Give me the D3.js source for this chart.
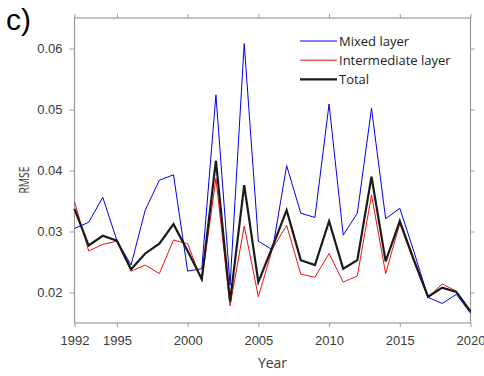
<!DOCTYPE html>
<html>
<head>
<meta charset="utf-8">
<script src="https://cdn.jsdelivr.net/npm/d3@7"></script>
<style>
  html, body { margin: 0; padding: 0; background: #fff; }
  svg { display: block; font-family: "Open Sans", "DejaVu Sans", sans-serif; }
</style>
</head>
<body>
<svg id="chart" width="484" height="376"></svg>
<script>
// RMSE per year for each layer
const years = d3.range(1992, 2021);
const mixedLayer = [0.0305, 0.0315, 0.0356, 0.0285, 0.0245, 0.0335, 0.0384, 0.0393, 0.0235, 0.0239,
  0.0524, 0.0212, 0.0608, 0.0284, 0.0270, 0.0408, 0.0330, 0.0323, 0.0509, 0.0294,
  0.0330, 0.0502, 0.0321, 0.0338, 0.0267, 0.0192, 0.0182, 0.0197, 0.0166];
const intermediateLayer = [0.0349, 0.0268, 0.0279, 0.0284, 0.0235, 0.0245, 0.0231, 0.0286, 0.0280, 0.0219,
  0.0387, 0.0178, 0.0309, 0.0193, 0.0272, 0.0310, 0.0230, 0.0225, 0.0264, 0.0217,
  0.0227, 0.0360, 0.0231, 0.0313, 0.0250, 0.0192, 0.0214, 0.0202, 0.0168];
const total = [0.0337, 0.0277, 0.0293, 0.0285, 0.0238, 0.0264, 0.0280, 0.0312, 0.0268, 0.0222,
  0.0416, 0.0185, 0.0376, 0.0217, 0.0275, 0.0335, 0.0253, 0.0245, 0.0317, 0.0239,
  0.0253, 0.0390, 0.0251, 0.0317, 0.0253, 0.0193, 0.0208, 0.0201, 0.0169];

const seriesNames = ["Mixed layer", "Intermediate layer", "Total"];
const xTicks = [1992, 1995, 2000, 2005, 2010, 2015, 2020];
const yTicks = [0.02, 0.03, 0.04, 0.05, 0.06];

const series = [
  { name: seriesNames[0], values: mixedLayer, color: "#0000ee", width: 1 },
  { name: seriesNames[1], values: intermediateLayer, color: "#ee1111", width: 1 },
  { name: seriesNames[2], values: total, color: "#1a1a1a", width: 2.2 }
];

const W = 484, H = 376;
const margin = { top: 18, right: 13.5, bottom: 53, left: 74.5 };
const svg = d3.select("#chart");

const x = d3.scaleLinear().domain([1992, 2020]).range([margin.left, W - margin.right]);
const y = d3.scaleLinear().domain([0.015, 0.065]).range([H - margin.bottom, margin.top]);

const axisColor = "#9a9a9a";
const textColor = "#3a3a3a";

function styleAxis(g) {
  g.select(".domain").remove();
  g.selectAll(".tick line").attr("stroke", axisColor);
  g.selectAll(".tick text").attr("fill", textColor).style("font-size", "13px");
}

// bottom and left axes with labels
svg.append("g")
  .attr("transform", `translate(0,${H - margin.bottom})`)
  .call(d3.axisBottom(x).tickValues(xTicks).tickFormat(d3.format("d")).tickSize(4).tickPadding(9))
  .call(styleAxis);

svg.append("g")
  .attr("transform", `translate(${margin.left},0)`)
  .call(d3.axisLeft(y).tickValues(yTicks).tickFormat(d3.format(".2f")).tickSize(5).tickPadding(7))
  .call(styleAxis);

// top and right axes: ticks only
svg.append("g")
  .attr("transform", `translate(0,${margin.top})`)
  .call(d3.axisTop(x).tickValues(xTicks).tickFormat("").tickSize(4))
  .call(styleAxis);

svg.append("g")
  .attr("transform", `translate(${W - margin.right},0)`)
  .call(d3.axisRight(y).tickValues(yTicks).tickFormat("").tickSize(4))
  .call(styleAxis);

// frame
svg.append("rect")
  .attr("x", margin.left).attr("y", margin.top)
  .attr("width", x.range()[1] - x.range()[0])
  .attr("height", y.range()[0] - y.range()[1])
  .attr("fill", "none").attr("stroke", axisColor).attr("stroke-width", 1.2);

// series lines
const line = d3.line().x((d, i) => x(years[i])).y(d => y(d));
const plot = svg.append("g");
series.forEach(s => {
  plot.append("path")
    .datum(s.values)
    .attr("d", line)
    .attr("fill", "none")
    .attr("stroke", s.color)
    .attr("stroke-width", s.width)
    .attr("stroke-linejoin", "miter");
});

// legend
const legend = svg.append("g").attr("transform", "translate(300,41)");
series.forEach((s, i) => {
  const row = legend.append("g").attr("transform", `translate(0,${i * 19.2})`);
  row.append("line").attr("x1", 0).attr("x2", 37).attr("y1", 0).attr("y2", 0)
    .attr("stroke", s.color).attr("stroke-width", s.width);
  row.append("text").attr("x", 39).attr("y", 0).attr("dy", "0.35em")
    .attr("fill", "#222").style("font-size", "13px").text(s.name);
});

// axis titles
svg.append("text")
  .attr("x", (x.range()[0] + x.range()[1]) / 2).attr("y", 368)
  .attr("text-anchor", "middle").attr("fill", textColor).style("font-size", "14px")
  .text("Year");

svg.append("text")
  .attr("transform", "translate(29,180) rotate(-90)")
  .attr("text-anchor", "middle").attr("fill", textColor).style("font-size", "14px")
  .attr("textLength", 27).attr("lengthAdjust", "spacingAndGlyphs")
  .text("RMSE");

// panel label
svg.append("text")
  .attr("x", 6).attr("y", 30)
  .attr("fill", "#000")
  .style("font-family", "'Liberation Sans', Arial, sans-serif")
  .style("font-size", "30px")
  .text("c)");
</script>
</body>
</html>
